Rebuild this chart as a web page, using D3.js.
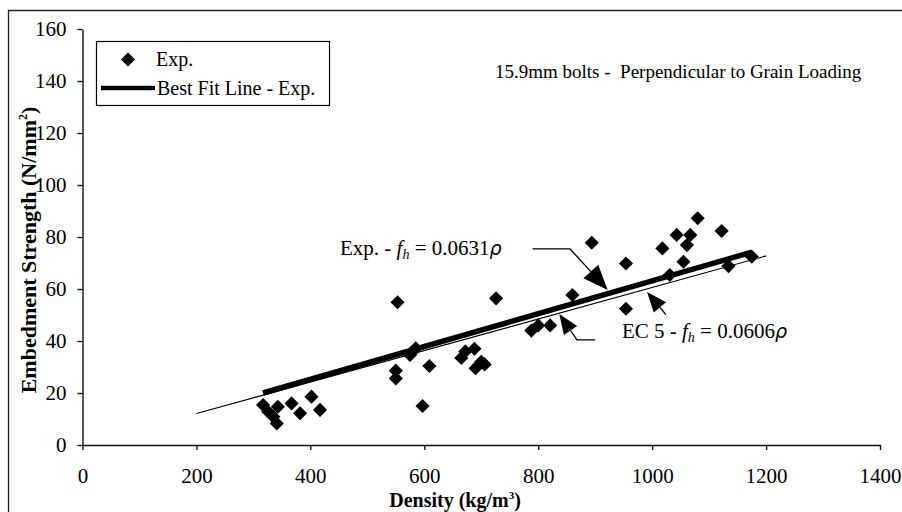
<!DOCTYPE html>
<html>
<head>
<meta charset="utf-8">
<script src="https://cdn.jsdelivr.net/npm/d3@7"></script>
<style>
  html, body { margin: 0; padding: 0; background: #fff; }
  svg { display: block; }
  text { font-family: "Liberation Serif", "Times New Roman", serif; fill: #000; }
</style>
</head>
<body>
<svg id="chart" width="902" height="512"></svg>
<script>
// Measured embedment strength against timber density, 15.9 mm bolts
const density = [317, 326, 335, 341, 343, 367, 382, 402, 417,
  550, 550, 553, 575, 585, 597, 609,
  665, 672, 688, 690, 700, 706,
  726, 788, 800, 821, 860, 894, 954, 954,
  1018, 1031, 1043, 1055, 1061, 1067, 1080, 1122, 1134, 1175];
const strength = [15.4, 12.8, 10.9, 8.3, 14.7, 16.0, 12.2, 18.6, 13.5,
  28.6, 25.6, 54.9, 34.6, 37.2, 15.0, 30.4,
  33.5, 36.0, 37.0, 29.5, 32.0, 31.0,
  56.4, 44.0, 46.0, 46.0, 57.7, 77.8, 69.8, 52.4,
  75.6, 65.4, 80.8, 70.5, 76.9, 80.8, 87.2, 82.3, 68.8, 72.4];

// Fitted and code relationships f_h = k * rho
const expSlope = 0.0631;
const expRange = [317, 1175];
const ec5Slope = 0.0606;
const ec5Range = [200, 1200];

const xTicks = [0, 200, 400, 600, 800, 1000, 1200, 1400];
const yTicks = [0, 20, 40, 60, 80, 100, 120, 140, 160];

const svg = d3.select("#chart");

const x = d3.scaleLinear().domain([0, 1400]).range([82.5, 880]);
const y = d3.scaleLinear().domain([0, 160]).range([445, 29]);

// outer frame (top and left edges)
svg.append("path")
  .attr("d", "M8.5,512 V10.5 H902")
  .attr("fill", "none").attr("stroke", "#222").attr("stroke-width", 1.3);

// axes
const fontSize = 21;
const yAxis = d3.axisLeft(y).tickValues(yTicks).tickSize(5).tickPadding(11).tickSizeOuter(0)
  .tickFormat(d3.format("d"));
const gy = svg.append("g").attr("transform", `translate(${x(0)},0)`).call(yAxis);
const xAxis = d3.axisBottom(x).tickValues(xTicks).tickSize(5).tickPadding(18).tickSizeOuter(0)
  .tickFormat(d3.format("d"));
const gx = svg.append("g").attr("transform", `translate(0,${y(0)})`).call(xAxis);
[gx, gy].forEach(g => {
  g.selectAll("text").style("font-family", '"Liberation Serif", serif')
    .style("font-size", fontSize + "px").attr("fill", "#000");
  g.selectAll("path, line").attr("stroke", "#111").attr("stroke-width", 1.4);
});

// axis titles
const xt = svg.append("text")
  .attr("x", 455).attr("y", 507)
  .attr("text-anchor", "middle")
  .style("font-size", "20px").style("font-weight", "bold");
xt.append("tspan").text("Density (kg/m");
xt.append("tspan").attr("dy", -8).style("font-size", "11px").text("3");
xt.append("tspan").attr("dy", 8).text(")");

const yt = svg.append("text")
  .attr("transform", "translate(36,250) rotate(-90)")
  .attr("text-anchor", "middle")
  .style("font-size", "22px").style("font-weight", "bold");
yt.append("tspan").text("Embedment Strength (N/mm");
yt.append("tspan").attr("dy", -9).style("font-size", "12px").text("2");
yt.append("tspan").attr("dy", 9).text(")");

// regression lines
const line = d3.line().x(d => x(d[0])).y(d => y(d[1]));
svg.append("path")
  .attr("d", line(ec5Range.map(v => [v, ec5Slope * v])))
  .attr("fill", "none").attr("stroke", "#000").attr("stroke-width", 1.2);
svg.append("path")
  .attr("d", line(expRange.map(v => [v, expSlope * v])))
  .attr("fill", "none").attr("stroke", "#000").attr("stroke-width", 5.5);

// data points as diamonds
const diamond = d3.symbol().type(d3.symbolSquare).size(100);
svg.append("g").selectAll("path")
  .data(density.map((d, i) => [d, strength[i]]))
  .join("path")
  .attr("d", diamond)
  .attr("transform", d => `translate(${x(d[0])},${y(d[1])}) rotate(45)`)
  .attr("fill", "#000");

// annotation arrows (data coordinates)
function arrow(pts, L, W) {
  const p = pts.map(d => [x(d[0]), y(d[1])]);
  const tip = p[p.length - 1], prev = p[p.length - 2];
  const ang = Math.atan2(tip[1] - prev[1], tip[0] - prev[0]);
  const bx = tip[0] - L * Math.cos(ang), by = tip[1] - L * Math.sin(ang);
  const head = [tip,
    [bx + W * Math.sin(ang), by - W * Math.cos(ang)],
    [bx - W * Math.sin(ang), by + W * Math.cos(ang)]];
  const shaft = p.slice(0, -1).concat([[bx, by]]);
  svg.append("path").attr("d", d3.line()(shaft))
    .attr("fill", "none").attr("stroke", "#000").attr("stroke-width", 1.3);
  svg.append("path").attr("d", d3.line()(head) + "Z").attr("fill", "#000");
}
arrow([[790, 75.4], [856, 75.4], [922, 59.6]], 25, 10);
arrow([[1024, 50.2], [991, 58.8]], 20, 8);
arrow([[900, 40.4], [868, 40.4], [837, 50.4]], 20, 8);

// equation labels
function eqLabel(px, py, prefix, coef) {
  const t = svg.append("text").attr("x", x(px)).attr("y", y(py)).style("font-size", "21px");
  t.append("tspan").text(prefix);
  t.append("tspan").style("font-style", "italic").text("f");
  t.append("tspan").attr("dy", 4).style("font-style", "italic").style("font-size", "14px").text("h");
  t.append("tspan").attr("dy", -4).text(" = " + coef);
  t.append("tspan").style("font-style", "italic").style("font-family", '"DejaVu Sans", sans-serif').style("font-size", "19px").text("\u03C1");
}
eqLabel(452, 73.2, "Exp. - ", "0.0631");
eqLabel(947, 41.2, "EC 5 - ", "0.0606");

// heading
svg.append("text").attr("x", 495).attr("y", 78)
  .style("font-size", "19px")
  .attr("xml:space", "preserve")
  .text("15.9mm bolts -  Perpendicular to Grain Loading");

// legend
const lg = svg.append("g");
lg.append("rect").attr("x", 96.5).attr("y", 41.5).attr("width", 233).attr("height", 64)
  .attr("fill", "#fff").attr("stroke", "#000").attr("stroke-width", 1.2);
lg.append("path").attr("d", diamond).attr("transform", "translate(128,59.5) rotate(45)").attr("fill", "#000");
lg.append("text").attr("x", 156).attr("y", 66).style("font-size", "20px").text("Exp.");
lg.append("line").attr("x1", 101).attr("x2", 155).attr("y1", 88).attr("y2", 88)
  .attr("stroke", "#000").attr("stroke-width", 4.5);
lg.append("text").attr("x", 157).attr("y", 95).style("font-size", "20px").text("Best Fit Line - Exp.");
</script>
</body>
</html>
